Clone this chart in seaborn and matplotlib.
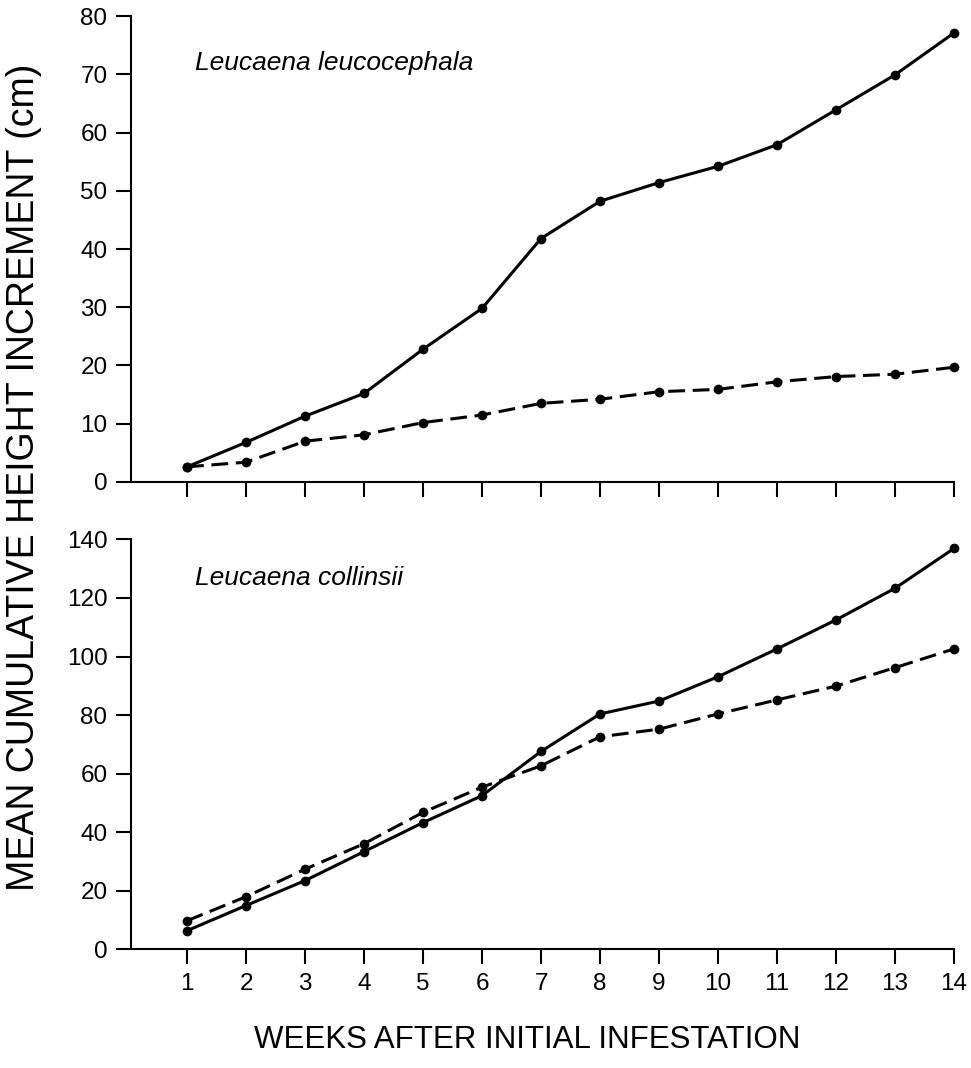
import matplotlib
matplotlib.use("Agg")
import matplotlib.pyplot as plt
import seaborn as sns
import pandas as pd

weeks = list(range(1, 15))
top_control = [2.6, 6.8, 11.3, 15.2, 22.8, 29.8, 41.8, 48.2, 51.4, 54.2, 57.9, 63.9, 69.9, 77.1]
top_infested = [2.6, 3.4, 7.0, 8.1, 10.2, 11.5, 13.5, 14.2, 15.5, 15.9, 17.2, 18.1, 18.5, 19.7]
bot_control = [6.4, 15.0, 23.5, 33.4, 43.3, 52.5, 67.6, 80.4, 84.8, 93.1, 102.6, 112.5, 123.3, 136.9]
bot_infested = [9.8, 18.0, 27.4, 36.1, 46.8, 55.4, 62.7, 72.6, 75.2, 80.4, 85.2, 89.9, 96.2, 102.6]
species = ["Leucaena leucocephala", "Leucaena collinsii"]
top_yticks = [0, 10, 20, 30, 40, 50, 60, 70, 80]
bot_yticks = [0, 20, 40, 60, 80, 100, 120, 140]
ylabel = "MEAN CUMULATIVE HEIGHT INCREMENT (cm)"
xlabel = "WEEKS AFTER INITIAL INFESTATION"

sns.set_theme(style="ticks")
plt.rcParams["font.family"] = ["Liberation Sans", "DejaVu Sans"]
plt.rcParams["text.color"] = "black"
plt.rcParams["axes.labelcolor"] = "black"

def make_df(ctrl, inf):
    return pd.DataFrame({
        "week": weeks * 2,
        "height": ctrl + inf,
        "treatment": ["control"] * len(weeks) + ["infested"] * len(weeks),
    })

fig = plt.figure(figsize=(9.71, 10.68), dpi=100)
ax1 = fig.add_axes([0.1349, 0.5487, 0.8476, 0.4363])
ax2 = fig.add_axes([0.1349, 0.1110, 0.8476, 0.3840])

panels = [
    (ax1, make_df(top_control, top_infested), top_yticks, species[0], 0.899),
    (ax2, make_df(bot_control, bot_infested), bot_yticks, species[1], 0.905),
]

for ax, df, yt, name, ty in panels:
    sns.lineplot(data=df, x="week", y="height", style="treatment",
                 dashes={"control": "", "infested": (5.5, 2.5)},
                 markers={"control": "o", "infested": "o"},
                 color="black", linewidth=2.2, markersize=7,
                 markeredgewidth=0, legend=False, ax=ax, clip_on=False)
    ax.set_xlim(0.05, 14)
    ax.set_ylim(yt[0], yt[-1])
    ax.set_yticks(yt)
    ax.set_xticks(weeks)
    ax.set_xlabel("")
    ax.set_ylabel("")
    ax.tick_params(axis="both", direction="out", length=11, width=1.5,
                   labelsize=17.5, colors="black", pad=6)
    for s in ["top", "right"]:
        ax.spines[s].set_visible(False)
    for s in ["left", "bottom"]:
        ax.spines[s].set_linewidth(1.5)
        ax.spines[s].set_color("black")
    ax.text(0.078, ty, name, transform=ax.transAxes, color="black",
            fontsize=19, style="italic", ha="left", va="center")

ax1.set_xticklabels([])
ax2.set_xticklabels([str(w) for w in weeks])

fig.text(0.025, 0.553, ylabel, rotation=90, ha="center", va="center",
         fontsize=27, color="black")
fig.text(0.5425, 0.026, xlabel, ha="center", va="center", fontsize=22.5,
         color="black")

fig.savefig("out.png", dpi=100, facecolor="white")
